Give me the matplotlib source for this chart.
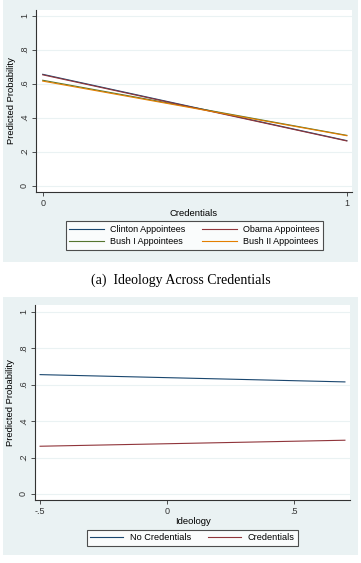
import matplotlib.pyplot as plt
from matplotlib.patches import Rectangle

# panel (a): predicted probability across credentials
credentials = [0, 1]
clinton = [0.655, 0.265]
obama = [0.652, 0.263]
bush1 = [0.620, 0.296]
bush2 = [0.615, 0.294]
series_a = ["Clinton Appointees", "Obama Appointees", "Bush I Appointees", "Bush II Appointees"]

# panel (b): predicted probability across ideology
ideology = [-0.5, 0.7]
no_cred = [0.655, 0.615]
cred = [0.262, 0.295]
series_b = ["No Credentials", "Credentials"]

yticks = [0, 0.2, 0.4, 0.6, 0.8, 1]
ytick_labels = ["0", ".2", ".4", ".6", ".8", "1"]

W, H = 361, 563
BG = "#eaf2f3"
NAVY, MAROON, GREEN, ORANGE = "#1a476f", "#90353b", "#55752f", "#e37e00"

plt.rcParams["font.family"] = ["Liberation Sans", "DejaVu Sans"]

fig = plt.figure(figsize=(W / 100, H / 100), dpi=100)
fig.patch.set_facecolor("white")


def box(x0, y0, x1, y1):
    """Figure-fraction rect from pixel coords (top-left origin)."""
    return [x0 / W, (H - y1) / H, (x1 - x0) / W, (y1 - y0) / H]


def pt(x, y):
    return (x / W, 1 - y / H)


def panel_bg(x0, y0, x1, y1):
    l, b, w, h = box(x0, y0, x1, y1)
    fig.patches.append(Rectangle((l, b), w, h, transform=fig.transFigure,
                                 facecolor=BG, edgecolor="none", zorder=-10))


def style(ax):
    ax.set_facecolor("white")
    for s in ["top", "right"]:
        ax.spines[s].set_visible(False)
    for s in ["left", "bottom"]:
        ax.spines[s].set_color("#333333")
        ax.spines[s].set_linewidth(0.8)
    ax.set_yticks(yticks)
    ax.set_yticklabels(ytick_labels, rotation=90, va="center")
    ax.tick_params(direction="out", length=3, width=0.6, labelsize=6.5,
                   colors="#333333", pad=2)
    ax.grid(axis="y", color=BG, linewidth=0.8)
    ax.set_axisbelow(True)


panel_bg(3, 0, 358, 262)
panel_bg(3, 297, 358, 555)

# ---- panel (a)
ax1 = fig.add_axes(box(36, 10, 352, 192))
style(ax1)
lw = 0.8
ax1.plot(credentials, clinton, color=NAVY, lw=lw, label=series_a[0])
ax1.plot(credentials, bush1, color=GREEN, lw=lw, label=series_a[2])
ax1.plot(credentials, obama, color=MAROON, lw=lw, label=series_a[1])
ax1.plot(credentials, bush2, color=ORANGE, lw=lw, label=series_a[3])
ax1.set_xlim(-0.022, 1.017)
ax1.set_ylim(-0.037, 1.033)
ax1.set_xticks([0, 1])
ax1.set_xticklabels(["0", "1"])
ax1.set_xlabel("Credentials", fontsize=6.8, labelpad=1)
ax1.set_ylabel("Predicted Probability", fontsize=6.8, labelpad=3)
h, l = ax1.get_legend_handles_labels()
leg1 = ax1.legend(h, l, ncol=2, fontsize=6.5, loc="center",
                  bbox_to_anchor=pt(194.5, 235.5), bbox_transform=fig.transFigure,
                  frameon=True, fancybox=False, edgecolor="#222222",
                  handlelength=3.8, columnspacing=1.9, borderpad=0.4,
                  labelspacing=0.35, handletextpad=0.7)
leg1.get_frame().set_linewidth(0.8)

# ---- caption
fig.text(181 / W, 1 - 280 / H, "(a)  Ideology Across Credentials",
         family=["Liberation Serif", "DejaVu Serif"], fontsize=10,
         ha="center", va="center")

# ---- panel (b)
ax2 = fig.add_axes(box(35, 305, 350, 500))
style(ax2)
ax2.plot(ideology, no_cred, color=NAVY, lw=lw, label=series_b[0])
ax2.plot(ideology, cred, color=MAROON, lw=lw, label=series_b[1])
ax2.set_xlim(-0.52, 0.72)
ax2.set_ylim(-0.033, 1.037)
ax2.set_xticks([-0.5, 0, 0.5])
ax2.set_xticklabels(["-.5", "0", ".5"])
ax2.set_xlabel("Ideology", fontsize=6.8, labelpad=1)
ax2.set_ylabel("Predicted Probability", fontsize=6.8, labelpad=3)
leg2 = ax2.legend(ncol=2, fontsize=6.6, loc="center",
                  bbox_to_anchor=pt(192.5, 538), bbox_transform=fig.transFigure,
                  frameon=True, fancybox=False, edgecolor="#222222",
                  handlelength=3.6, columnspacing=1.9, borderpad=0.4,
                  handletextpad=0.7)
leg2.get_frame().set_linewidth(0.8)

fig.savefig("out.png", dpi=100, facecolor=fig.get_facecolor())
